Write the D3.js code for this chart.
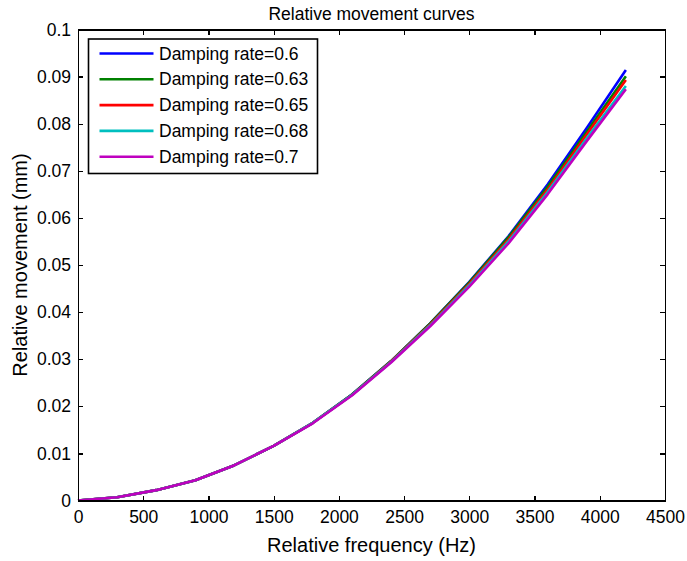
<!DOCTYPE html>
<html>
<head>
  <meta charset="utf-8">
  <style>
  *{ margin: 0; padding: 0; }
  body{ background: #fff; }
  text{ font-family: 'Liberation Sans', Arial, sans-serif; fill: #000; }
  .axis path, .axis line{ stroke: #000; shape-rendering: crispEdges; }
  </style>
</head>
<body>
  <div class="chart"></div>
  <script src="https://d3js.org/d3.v7.min.js"></script>
  <script>

  // frequency samples (Hz)
  let freqs = [0, 300, 600, 900, 1200, 1500, 1800, 2100, 2400, 2700, 3000, 3300, 3600, 3900, 4200];

  // relative movement (mm) for each damping rate
  let rate060 = [0, 0.0007, 0.0022, 0.0043, 0.0075, 0.0116, 0.0165, 0.0225, 0.0296, 0.0376, 0.0464, 0.0561, 0.0671, 0.0791, 0.0914];
  let rate063 = [0, 0.0007, 0.0022, 0.0043, 0.0075, 0.0116, 0.0165, 0.0225, 0.0296, 0.0376, 0.0463, 0.0559, 0.0666, 0.0783, 0.0901];
  let rate065 = [0, 0.0007, 0.0022, 0.0043, 0.0075, 0.0116, 0.0165, 0.0224, 0.0295, 0.0374, 0.0460, 0.0554, 0.0660, 0.0777, 0.0893];
  let rate068 = [0, 0.0007, 0.0022, 0.0043, 0.0075, 0.0116, 0.0165, 0.0224, 0.0294, 0.0372, 0.0457, 0.0550, 0.0655, 0.0769, 0.0880];
  let rate070 = [0, 0.0007, 0.0022, 0.0043, 0.0075, 0.0116, 0.0164, 0.0223, 0.0293, 0.0370, 0.0454, 0.0546, 0.0650, 0.0763, 0.0873];

  let seriesNames = ['Damping rate=0.6', 'Damping rate=0.63', 'Damping rate=0.65', 'Damping rate=0.68', 'Damping rate=0.7'];
  let seriesColors = ['#0000ff', '#008000', '#ff0000', '#00bfbf', '#bf00bf'];
  let seriesValues = [rate060, rate063, rate065, rate068, rate070];

  let xTicks = [0, 500, 1000, 1500, 2000, 2500, 3000, 3500, 4000, 4500];
  let yTicks = [0, 0.01, 0.02, 0.03, 0.04, 0.05, 0.06, 0.07, 0.08, 0.09, 0.1];

  let W = 687, H = 561;
  let margin = {top: 29.5, right: 22, bottom: 60.5, left: 78};
  let width = W - margin.left - margin.right,
      height = H - margin.top - margin.bottom;
  let fontSize = 17.5;    // ticks + legend + title
  let labelSize = 20;     // axis titles

  let svg = d3.select('.chart').append('svg')
    .attr('width', W).attr('height', H);

  let g = svg.append('g')
    .attr('transform', 'translate(' + margin.left + ',' + margin.top + ')');

  let x = d3.scaleLinear().domain([0, 4500]).range([0, width]);
  let y = d3.scaleLinear().domain([0, 0.1]).range([height, 0]);

  let fmtY = function(d){ return String(+d.toFixed(2)); };

  // lines
  let line = d3.line()
    .x(function(d, i){ return x(freqs[i]); })
    .y(function(d){ return y(d); });

  seriesValues.forEach(function(vals, i){
    g.append('path')
      .datum(vals)
      .attr('fill', 'none')
      .attr('stroke', seriesColors[i])
      .attr('stroke-width', 2.6)
      .attr('stroke-linejoin', 'round')
      .attr('d', line);
  });

  // axes, ticks pointing inward like matlab
  g.append('g').attr('class', 'axis')
    .attr('transform', 'translate(0,' + height + ')')
    .call(d3.axisBottom(x).tickValues(xTicks).tickFormat(d3.format('d'))
      .tickSizeInner(-5).tickSizeOuter(0).tickPadding(10));
  g.append('g').attr('class', 'axis')
    .call(d3.axisTop(x).tickValues(xTicks).tickSizeInner(-5).tickSizeOuter(0).tickFormat(''));
  g.append('g').attr('class', 'axis')
    .call(d3.axisLeft(y).tickValues(yTicks).tickFormat(fmtY)
      .tickSizeInner(-5).tickSizeOuter(0).tickPadding(7));
  g.append('g').attr('class', 'axis')
    .attr('transform', 'translate(' + width + ',0)')
    .call(d3.axisRight(y).tickValues(yTicks).tickSizeInner(-5).tickSizeOuter(0).tickFormat(''));

  g.selectAll('.axis path').attr('stroke-width', 1.6);
  g.selectAll('.axis line').attr('stroke-width', 1.3);
  g.selectAll('.axis text')
    .attr('font-size', fontSize)
    .attr('font-family', "'Liberation Sans', Arial, sans-serif")
    .attr('fill', '#000');

  // title and axis labels
  svg.append('text')
    .attr('x', margin.left + width / 2).attr('y', 20)
    .attr('text-anchor', 'middle').attr('font-size', fontSize)
    .text('Relative movement curves');

  svg.append('text')
    .attr('x', margin.left + width / 2).attr('y', 552)
    .attr('text-anchor', 'middle').attr('font-size', labelSize)
    .text('Relative frequency (Hz)');

  svg.append('text')
    .attr('transform', 'translate(27,' + (margin.top + height / 2) + ') rotate(-90)')
    .attr('text-anchor', 'middle').attr('font-size', labelSize)
    .text('Relative movement (mm)');

  // legend
  let legend = svg.append('g').attr('transform', 'translate(88.5,39)');
  legend.append('rect')
    .attr('width', 229).attr('height', 134.5)
    .attr('fill', '#fff').attr('stroke', '#000').attr('stroke-width', 1.6);

  let rowH = 25.8;
  seriesNames.forEach(function(name, i){
    let yy = 14.5 + i * rowH;
    legend.append('line')
      .attr('x1', 11).attr('x2', 65)
      .attr('y1', yy).attr('y2', yy)
      .attr('stroke', seriesColors[i]).attr('stroke-width', 2.6);
    legend.append('text')
      .attr('x', 70.5).attr('y', yy + 6)
      .attr('font-size', fontSize)
      .text(name);
  });

  </script>
</body>
</html>
